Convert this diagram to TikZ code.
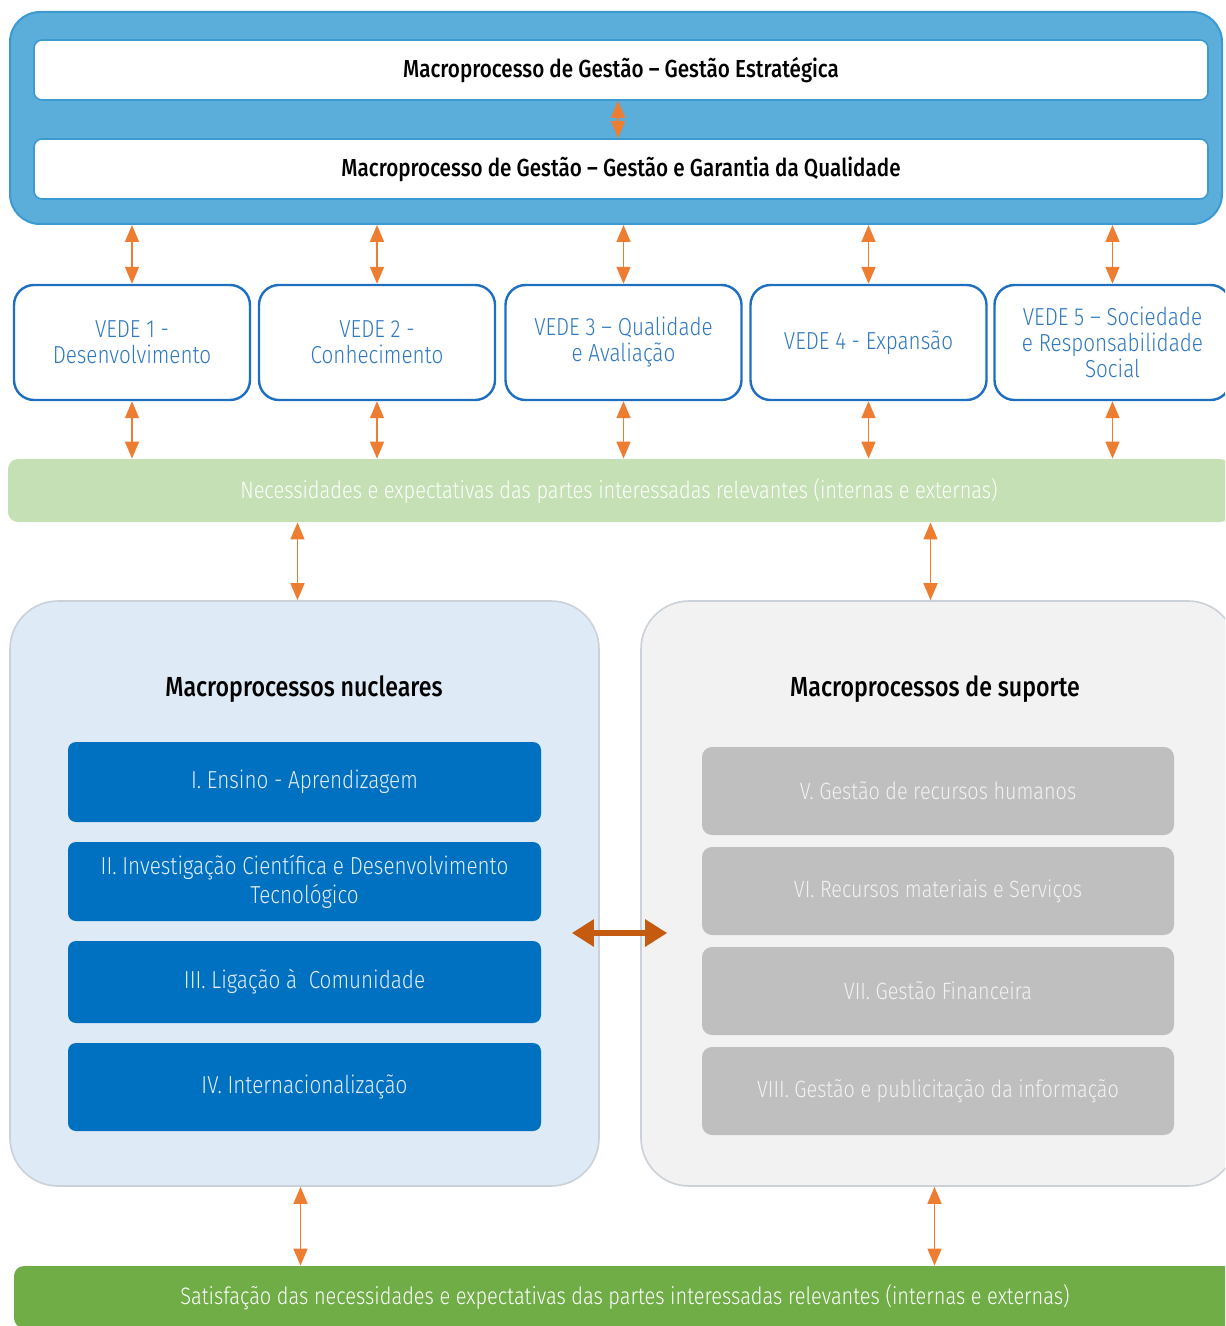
\documentclass[tikz,border=0pt]{standalone}
\usepackage{fontspec}
\setmainfont{Fira Sans Light}[FakeStretch=0.84, BoldFont={Fira Sans Medium}, BoldFeatures={FakeStretch=0.84}]
\usetikzlibrary{arrows.meta}
\definecolor{outerblue}{HTML}{5BADDA}
\definecolor{outerline}{HTML}{3C9AD2}
\definecolor{vedeline}{HTML}{1E6FBF}
\definecolor{vedetext}{HTML}{2E78C0}
\definecolor{arrorange}{HTML}{ED7D31}
\definecolor{bigorange}{HTML}{C55A11}
\definecolor{lightgreen}{HTML}{C5E0B4}
\definecolor{darkgreen}{HTML}{70AD47}
\definecolor{nucfill}{HTML}{DEEAF6}
\definecolor{supfill}{HTML}{F2F2F2}
\definecolor{panelline}{HTML}{CBD1D8}
\definecolor{itemblue}{HTML}{0070C0}
\definecolor{itemtext}{HTML}{E3EEF9}
\definecolor{itemgrey}{HTML}{BFBFBF}
\begin{document}
\begin{tikzpicture}[x=0.5pt, y=-0.5pt, >={Triangle[width=7pt,length=8.5pt]}]
\useasboundingbox (0,0) rectangle (1225,1326);
\clip (0,0) rectangle (1225,1326);
\tikzstyle{every node}=[inner sep=0pt, align=center]
\tikzstyle{mgbox}=[draw=outerline, fill=white, line width=0.8pt, rounded corners=4pt, minimum width=587pt, minimum height=30pt, font=\bfseries\fontsize{12.3}{14}\selectfont]
\tikzstyle{vede}=[draw=vedeline, fill=white, line width=1.2pt, rounded corners=10pt, minimum width=118pt, minimum height=57.5pt, text=vedetext, font=\fontsize{12.3}{13}\selectfont]
\tikzstyle{panel}=[draw=panelline, line width=0.8pt, rounded corners=24pt, minimum height=292.5pt]
\tikzstyle{nucitem}=[fill=itemblue, rounded corners=4pt, minimum width=236.5pt, text=itemtext, font=\fontsize{12.3}{14.5}\selectfont]
\tikzstyle{supitem}=[fill=itemgrey, rounded corners=5pt, minimum width=236pt, minimum height=44pt, text=supfill, font=\fontsize{11.8}{13}\selectfont]
\tikzstyle{arr}=[<->, draw=arrorange, fill=arrorange, line width=0.8pt]
% management block
\node[draw=outerline, fill=outerblue, line width=1pt, rounded corners=15pt, minimum width=606pt, minimum height=106pt] (outer) at (616,118) {};
\node[mgbox] (mg1) at (621,70) {Macroprocesso de Gestão – Gestão Estratégica};
\node[mgbox] (mg2) at (621,169) {Macroprocesso de Gestão – Gestão e Garantia da Qualidade};
\draw[arr] ([xshift=-1.5pt]mg1.south) -- ([xshift=-1.5pt]mg2.north);
% strategic vectors
\node[vede] (v1) at (132,342.5) {VEDE 1 -\\Desenvolvimento};
\node[vede] (v2) at (377,342.5) {VEDE 2 -\\Conhecimento};
\node[vede] (v3) at (623.5,342.5) {VEDE 3 – Qualidade\\e Avaliação};
\node[vede] (v4) at (868.5,342.5) {VEDE 4 - Expansão};
\node[vede] (v5) at (1112.5,342.5) {VEDE 5 – Sociedade\\e Responsabilidade\\Social};
% stakeholders
\node[fill=lightgreen, rounded corners=5pt, minimum width=611pt, minimum height=31.5pt, text=white, font=\fontsize{11.9}{13}\selectfont] (need) at (619,490.5) {Necessidades e expectativas das partes interessadas relevantes (internas e externas)};
\foreach \i in {1,...,5} {
  \draw[arr] (v\i.north |- outer.south) -- (v\i.north);
  \draw[arr] (v\i.south) -- (v\i.south |- need.north);
}
% core and support
\node[panel, fill=nucfill, minimum width=294.5pt] (nuc) at (304.5,893.5) {};
\node[panel, fill=supfill, minimum width=297.5pt] (sup) at (938.5,893.5) {};
\node[font=\bfseries\fontsize{13.8}{15}\selectfont] (nuct) at (304,689) {Macroprocessos nucleares};
\node[font=\bfseries\fontsize{13.8}{15}\selectfont] (supt) at (935,689) {Macroprocessos de suporte};
\node[nucitem, minimum height=40pt] (n1) at (304.5,782) {I. Ensino - Aprendizagem};
\node[nucitem, minimum height=39.5pt] (n2) at (304.5,881.5) {II. Investigação Científica e Desenvolvimento\\Tecnológico};
\node[nucitem, minimum height=41pt] (n3) at (304.5,982) {III. Ligação à~ Comunidade};
\node[nucitem, minimum height=44pt] (n4) at (304.5,1087) {IV. Internacionalização};
\node[supitem] (s1) at (938,791) {V. Gestão de recursos humanos};
\node[supitem] (s2) at (938,891) {VI. Recursos materiais e Serviços};
\node[supitem] (s3) at (938,991) {VII. Gestão Financeira};
\node[supitem] (s4) at (938,1091) {VIII. Gestão e publicitação da informação};
\draw[<->, >={Triangle[width=13pt,length=11pt]}, draw=bigorange, fill=bigorange, line width=3pt] ([shift={(-14pt,-19.75pt)}]nuc.east) -- ([shift={(13.5pt,-19.75pt)}]sup.west);
% satisfaction
\node[fill=darkgreen, rounded corners=5pt, minimum width=611pt, minimum height=31pt, text=white, font=\fontsize{11.9}{13}\selectfont] (sat) at (625,1297) {Satisfação das necessidades e expectativas das partes interessadas relevantes (internas e externas)};
\draw[arr] ([xshift=-3.5pt]nuc.north) -- ([xshift=-3.5pt]nuc.north |- need.south);
\draw[arr] ([xshift=-4pt]sup.north) -- ([xshift=-4pt]sup.north |- need.south);
\draw[arr] ([xshift=-2pt]nuc.south) -- ([xshift=-2pt]nuc.south |- sat.north);
\draw[arr] ([xshift=-2pt]sup.south) -- ([xshift=-2pt]sup.south |- sat.north);
\end{tikzpicture}
\end{document}
